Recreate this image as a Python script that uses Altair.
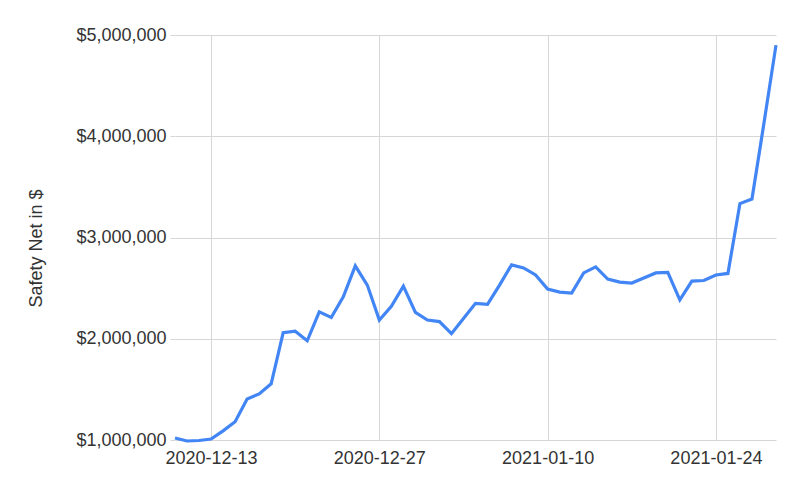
import altair as alt
import pandas as pd

start_date = "2020-12-10"
safety_net = [
    1020000, 990000, 995000, 1010000, 1090000, 1180000, 1405000, 1455000, 1555000, 2060000,
    2075000, 1980000, 2265000, 2210000, 2415000, 2720000, 2530000, 2185000, 2320000, 2520000,
    2260000, 2185000, 2170000, 2050000, 2200000, 2350000, 2340000, 2530000, 2730000, 2700000,
    2630000, 2490000, 2460000, 2450000, 2650000, 2710000, 2590000, 2560000, 2550000, 2600000,
    2650000, 2655000, 2385000, 2570000, 2575000, 2630000, 2645000, 3335000, 3380000, 4130000,
    4900000,
]
x_ticks = ["2020-12-13", "2020-12-27", "2021-01-10", "2021-01-24"]
x_domain = ["2020-12-10", "2021-01-29"]
y_ticks = [1000000, 2000000, 3000000, 4000000, 5000000]

dates = pd.date_range(start_date, periods=len(safety_net), freq="D").strftime("%Y-%m-%d")
df = pd.DataFrame({"date": dates, "value": safety_net})


def to_ms(s):
    return int(pd.Timestamp(s, tz="UTC").value // 1_000_000)


FONT = "Liberation Sans"
TEXT = "#333333"
GRID = "#d6d6d6"

chart = (
    alt.Chart(df)
    .mark_line(color="#4285f4", strokeWidth=3.2, strokeJoin="miter")
    .encode(
        x=alt.X(
            "date:T",
            scale=alt.Scale(type="utc", domain=[to_ms(d) for d in x_domain], nice=False),
            axis=alt.Axis(
                title=None,
                values=[to_ms(d) for d in x_ticks],
                labelExpr="utcFormat(datum.value, '%Y-%m-%d')",
                grid=True,
                gridColor=GRID,
                gridWidth=1,
                ticks=False,
                domain=False,
                labelFont=FONT,
                labelFontSize=18,
                labelColor=TEXT,
                labelPadding=9,
                labelFlush=False,
                labelOverlap=False,
            ),
        ),
        y=alt.Y(
            "value:Q",
            scale=alt.Scale(domain=[1000000, 5000000], nice=False, zero=False),
            axis=alt.Axis(
                title="Safety Net in $",
                values=y_ticks,
                format="$,.0f",
                grid=True,
                gridColor=GRID,
                gridWidth=1,
                ticks=True,
                tickSize=5,
                tickColor=GRID,
                domain=False,
                labelFont=FONT,
                labelFontSize=18,
                labelColor=TEXT,
                labelPadding=4,
                labelFlush=False,
                titleFont=FONT,
                titleFontSize=18,
                titleFontWeight="normal",
                titleColor=TEXT,
                titlePadding=30,
                titleY=213,
            ),
        ),
    )
    .properties(
        width=601,
        height=405,
        autosize=alt.AutoSizeParams(type="none"),
        padding={"left": 167, "top": 27, "right": 16, "bottom": 45},
    )
    .configure_view(stroke=None)
)

chart.save("out.html", embed_options={"renderer": "svg", "actions": False})
